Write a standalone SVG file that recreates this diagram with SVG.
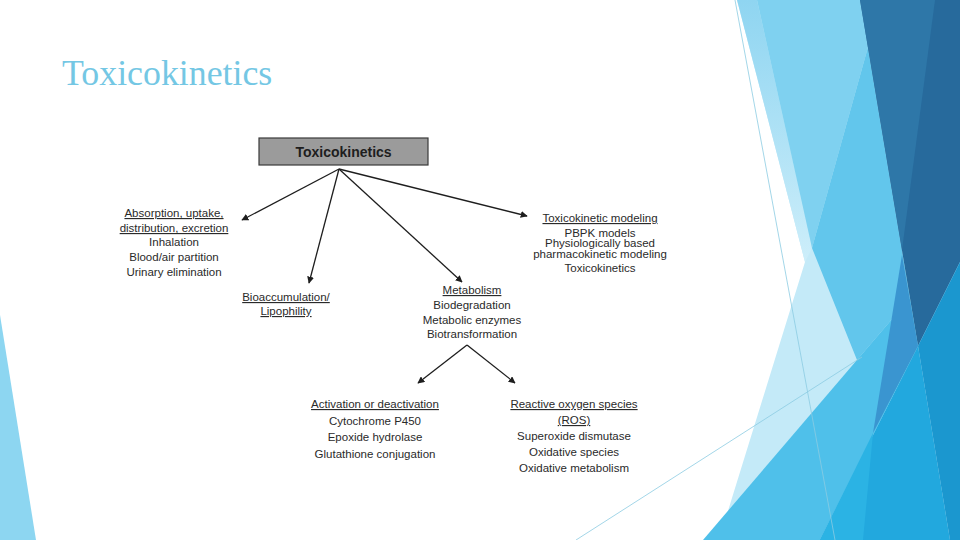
<svg xmlns="http://www.w3.org/2000/svg" width="960" height="540" viewBox="0 0 960 540">
<defs>
<style>
.t{font-family:"Liberation Sans",Arial,sans-serif;font-size:11.5px;fill:#2a2a2a;text-anchor:middle}
.u{text-decoration:underline}
.c{stroke:#1e1e1e;stroke-width:1.3;fill:none;marker-end:url(#ah)}
.thin{stroke:#8ccbe2;stroke-width:0.8;fill:none}
</style>
<marker id="ah" viewBox="0 0 10 10" refX="9" refY="5" markerWidth="7" markerHeight="7" markerUnits="userSpaceOnUse" orient="auto">
<path d="M0,0 L10,5 L0,10 z" fill="#1e1e1e"/>
</marker>
<linearGradient id="strip" x1="0" y1="0" x2="0" y2="1">
<stop offset="0" stop-color="#8fd5f1"/>
<stop offset="1" stop-color="#cdeefa"/>
</linearGradient>
</defs>
<rect width="960" height="540" fill="#ffffff"/>
<g id="background">
<polygon points="0,315 36,540 0,540" fill="#8dd6f1"/>
<polygon points="737,0 805,262 719,540 960,540 960,0" fill="#c4eaf8"/>
<polygon points="737,0 757,0 812,248 805,262" fill="url(#strip)"/>
<polygon points="757,0 860,0 868,47 812,248" fill="#7fd1f0"/>
<polygon points="860,0 868,47 812,248 857,360 910,298" fill="#62c6ec"/>
<polygon points="703,540 910,298 918,346 820,540" fill="#4fc0ea"/>
<polygon points="918,346 950,540 820,540" fill="#22a8de"/>
<polygon points="873,433 863,540 820,540" fill="#2bb3e4"/>
<polygon points="860,0 960,0 960,262 918,346" fill="#276a9c"/>
<polygon points="860,0 935,0 902,250" fill="#2e77a8"/>
<polygon points="918,346 960,262 960,540 950,540" fill="#1b97cf"/>
<polygon points="902,255 918,346 873,433" fill="#3a95d0"/>
<line class="thin" x1="735" y1="0" x2="835" y2="540"/>
<line class="thin" x1="576" y1="540" x2="862" y2="357"/>
</g>
<text x="62" y="85" font-family="'Liberation Serif','Times New Roman',serif" font-size="35.8" fill="#74c7e4">Toxicokinetics</text>
<g id="connectors">
<line class="c" x1="339" y1="169" x2="242" y2="220"/>
<line class="c" x1="339" y1="169" x2="309" y2="283"/>
<line class="c" x1="339" y1="169" x2="462" y2="282"/>
<line class="c" x1="339" y1="169" x2="527" y2="216"/>
<line class="c" x1="467" y1="345" x2="418" y2="383"/>
<line class="c" x1="467" y1="345" x2="515" y2="383"/>
</g>
<g id="root">
<rect x="259" y="138" width="169" height="27" fill="#9b9b9b" stroke="#3a3a3a" stroke-width="1.2"/>
<text x="343.5" y="157" font-family="'Liberation Sans',Arial,sans-serif" font-size="14" font-weight="bold" fill="#1e1e1e" text-anchor="middle">Toxicokinetics</text>
</g>
<g id="absorption">
<text class="t u" x="174" y="217">Absorption, uptake,</text>
<text class="t u" x="174" y="232">distribution, excretion</text>
<text class="t" x="174" y="246">Inhalation</text>
<text class="t" x="174" y="261">Blood/air partition</text>
<text class="t" x="174" y="276">Urinary elimination</text>
</g>
<g id="bioaccumulation">
<text class="t u" x="286" y="301">Bioaccumulation/</text>
<text class="t u" x="286" y="315">Lipophility</text>
</g>
<g id="metabolism">
<text class="t u" x="472" y="294">Metabolism</text>
<text class="t" x="472" y="309">Biodegradation</text>
<text class="t" x="472" y="324">Metabolic enzymes</text>
<text class="t" x="472" y="338">Biotransformation</text>
</g>
<g id="modeling">
<text class="t u" x="600" y="222">Toxicokinetic modeling</text>
<text class="t" x="600" y="237">PBPK models</text>
<text class="t" x="600" y="247">Physiologically based</text>
<text class="t" x="600" y="258">pharmacokinetic modeling</text>
<text class="t" x="600" y="272">Toxicokinetics</text>
</g>
<g id="activation">
<text class="t u" x="375" y="408">Activation or deactivation</text>
<text class="t" x="375" y="425">Cytochrome P450</text>
<text class="t" x="375" y="441">Epoxide hydrolase</text>
<text class="t" x="375" y="458">Glutathione conjugation</text>
</g>
<g id="ros">
<text class="t u" x="574" y="408">Reactive oxygen species</text>
<text class="t u" x="574" y="424">(ROS)</text>
<text class="t" x="574" y="440">Superoxide dismutase</text>
<text class="t" x="574" y="456">Oxidative species</text>
<text class="t" x="574" y="472">Oxidative metabolism</text>
</g>
</svg>
